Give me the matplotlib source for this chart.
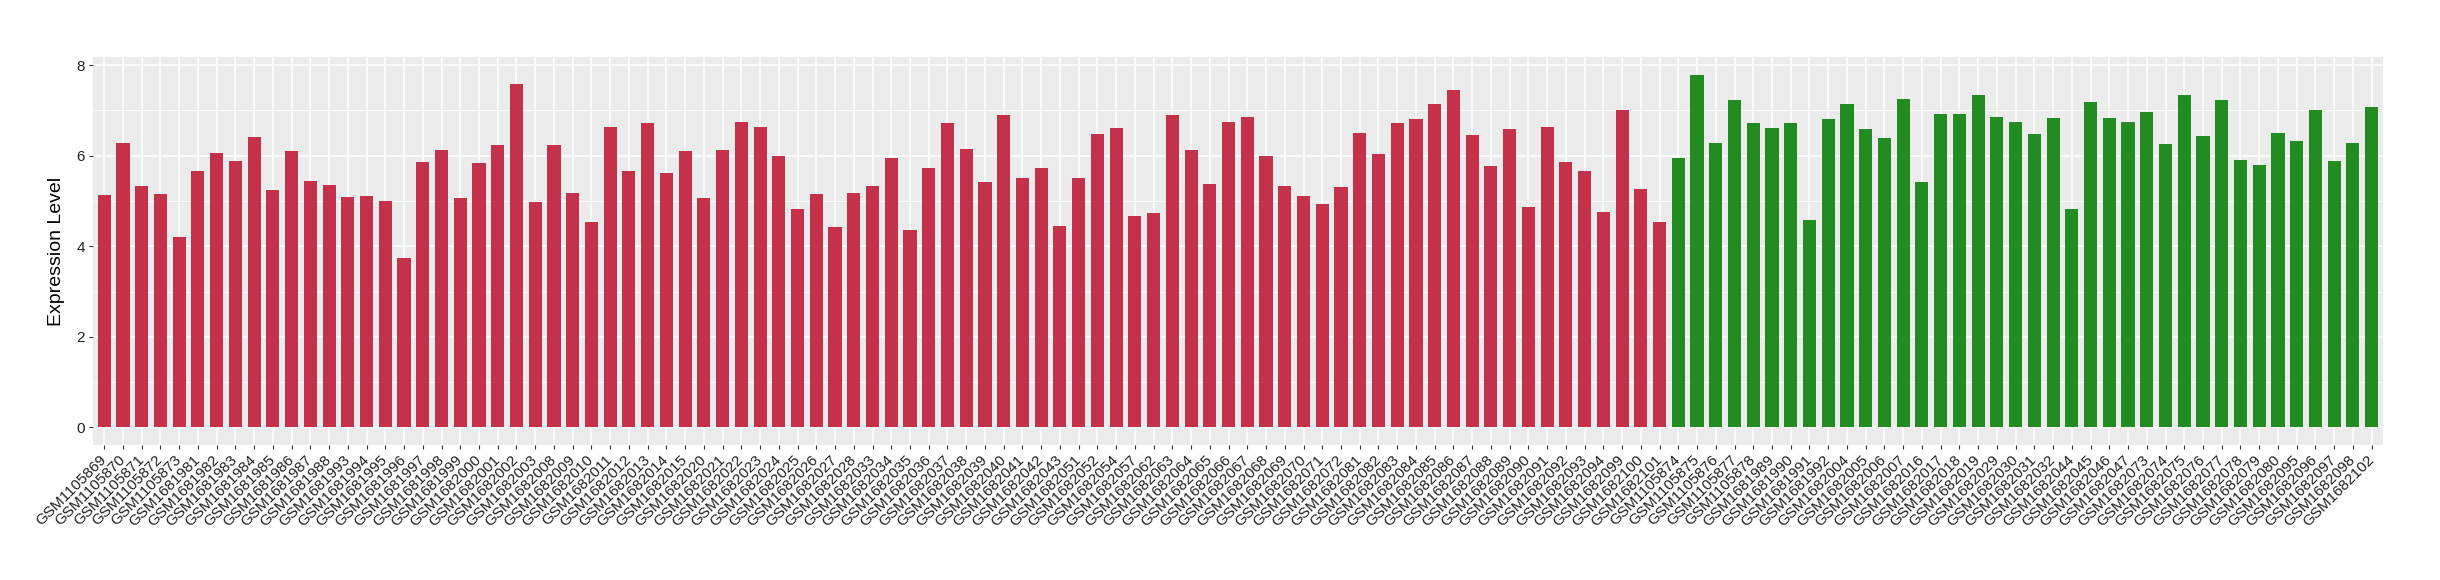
import matplotlib
matplotlib.use("Agg")
import matplotlib.pyplot as plt
import numpy as np

plt.rcParams['font.family'] = ['Liberation Sans', 'DejaVu Sans']

# sample ids, in plot order (first the red group, then the green group)
red_samples = (
    ["GSM11058%d" % n for n in range(69, 74)]
    + ["GSM16819%d" % n for n in range(81, 89)]
    + ["GSM16819%d" % n for n in range(93, 100)]
    + ["GSM168200%d" % n for n in range(0, 4)]
    + ["GSM16820%02d" % n for n in range(8, 16)]
    + ["GSM16820%02d" % n for n in range(20, 29)]
    + ["GSM16820%02d" % n for n in range(33, 44)]
    + ["GSM1682051", "GSM1682052", "GSM1682054", "GSM1682057", "GSM1682062"]
    + ["GSM16820%02d" % n for n in range(63, 73)]
    + ["GSM16820%02d" % n for n in range(81, 95)]
    + ["GSM1682099", "GSM1682100", "GSM1682101"]
)
green_samples = (
    ["GSM11058%d" % n for n in range(74, 79)]
    + ["GSM16819%d" % n for n in range(89, 93)]
    + ["GSM168200%d" % n for n in range(4, 8)]
    + ["GSM16820%02d" % n for n in range(16, 20)]
    + ["GSM16820%02d" % n for n in range(29, 33)]
    + ["GSM16820%02d" % n for n in range(44, 48)]
    + ["GSM16820%02d" % n for n in range(73, 81)]
    + ["GSM16820%02d" % n for n in range(95, 99)]
    + ["GSM1682102"]
)

red_values = [
    5.13, 6.29, 5.33, 5.15, 4.21, 5.66, 6.05, 5.88, 6.42, 5.24,
    6.10, 5.44, 5.35, 5.08, 5.11, 5.00, 3.74, 5.85, 6.12, 5.06,
    5.83, 6.23, 7.59, 4.97, 6.23, 5.17, 4.53, 6.64, 5.66, 6.73,
    5.61, 6.10, 5.06, 6.12, 6.75, 6.64, 5.99, 4.82, 5.15, 4.42,
    5.17, 5.33, 5.96, 4.36, 5.72, 6.73, 6.14, 5.41, 6.89, 5.50,
    5.72, 4.45, 5.50, 6.49, 6.62, 4.67, 4.73, 6.89, 6.12, 5.37,
    6.75, 6.86, 5.99, 5.33, 5.11, 4.93, 5.30, 6.51, 6.03, 6.73,
    6.80, 7.15, 7.46, 6.45, 5.77, 6.58, 4.86, 6.64, 5.85, 5.66,
    4.75, 7.00, 5.26, 4.53,
]
green_values = [
    5.96, 7.79, 6.27, 7.22, 6.73, 6.62, 6.73, 4.58, 6.80, 7.15,
    6.60, 6.38, 7.26, 5.41, 6.93, 6.93, 7.35, 6.86, 6.75, 6.49,
    6.84, 4.82, 7.19, 6.84, 6.75, 6.97, 6.25, 7.35, 6.43, 7.22,
    5.90, 5.79, 6.51, 6.32, 7.00, 5.88, 6.27, 7.08,
]

red_color = "#C3324A"
green_color = "#228B22"

samples = red_samples + green_samples
values = red_values + green_values
colors = [red_color] * len(red_samples) + [green_color] * len(green_samples)
x = np.arange(len(samples))

fig = plt.figure(figsize=(24.4, 5.8), dpi=100)
ax = fig.add_axes([0.0381, 0.2328, 0.9385, 0.6689])
ax.set_facecolor("#EBEBEB")

ax.bar(x, values, width=0.7, color=colors, zorder=3)

ax.set_xlim(-0.6, len(samples) - 0.4)
ax.set_ylim(-0.39, 8.18)
ax.set_yticks([0, 2, 4, 6, 8])
ax.set_yticks([1, 3, 5, 7], minor=True)
ax.set_xticks(x)
ax.set_xticklabels(samples, rotation=45, ha="right", va="center",
                   rotation_mode="anchor", fontsize=11, color="#222222")

ax.grid(which="major", color="white", linewidth=1.1, zorder=0)
ax.grid(which="minor", axis="y", color="white", linewidth=0.55, zorder=0)
ax.set_axisbelow(True)
for s in ax.spines.values():
    s.set_visible(False)

ax.tick_params(axis="both", which="major", length=3, width=0.8, color="#333333",
               labelsize=11, labelcolor="#222222", pad=3)
ax.tick_params(axis="y", which="minor", length=0)
ax.tick_params(axis="x", pad=6)

ax.set_ylabel("Expression Level", fontsize=14, labelpad=8)

fig.savefig("out.png", dpi=100)
